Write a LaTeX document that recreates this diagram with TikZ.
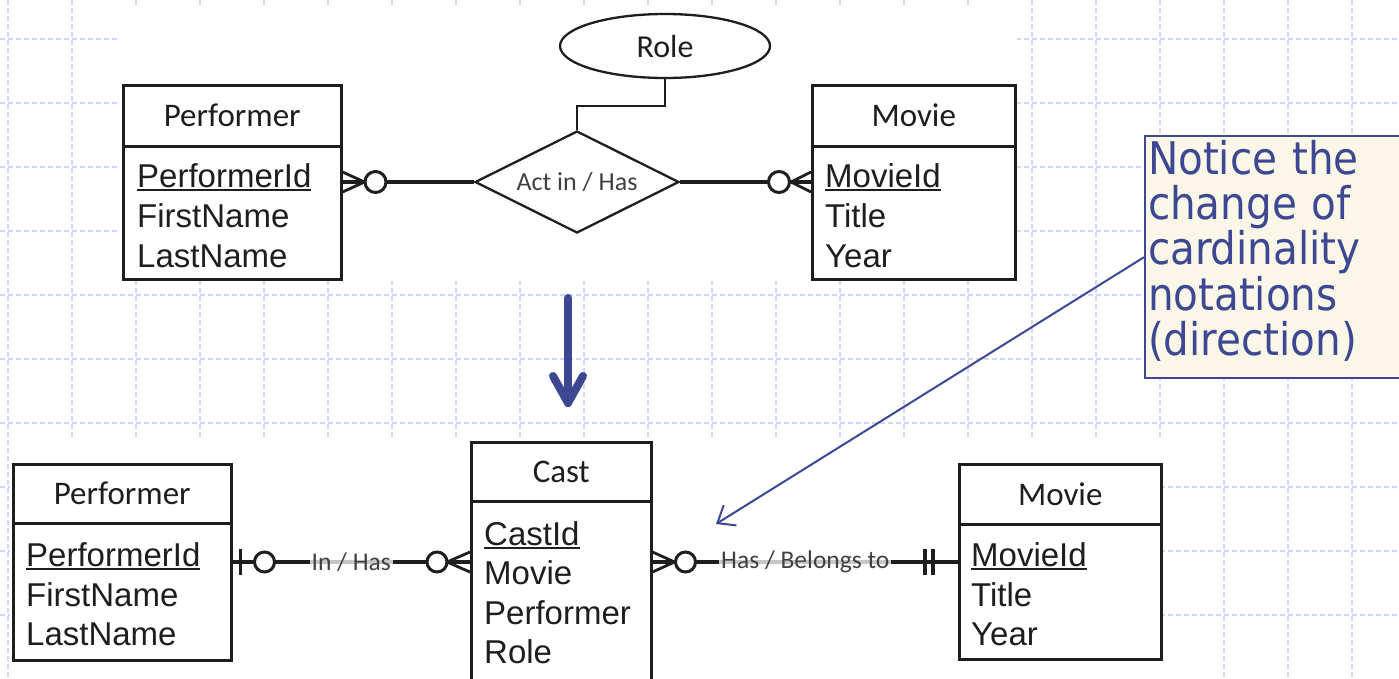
\documentclass[tikz,border=0pt]{standalone}
\usepackage{fontspec}
\setmainfont{Liberation Sans}
\newfontfamily\calfont{Carlito}
\newfontfamily\notefont{DejaVu Sans Condensed}
\usetikzlibrary{shapes.geometric,calc,arrows.meta}

\definecolor{gridblue}{RGB}{206,216,250}
\definecolor{callblue}{RGB}{62,71,145}
\definecolor{cream}{RGB}{251,247,232}
\definecolor{ink}{RGB}{30,30,30}
\definecolor{labelgray}{RGB}{64,64,64}

% key attribute: text with a heavy underline
\newcommand\keyattr[1]{\setbox0\hbox{#1}\rlap{\rule[-4pt]{\wd0}{2pt}}\box0}

\begin{document}
\begin{tikzpicture}[x=1pt,y=-1pt,
  gridline/.style={draw=gridblue,line width=1.2pt,dash pattern=on 5pt off 3pt},
  enthead/.style={draw=ink,line width=2.5pt,anchor=north west,inner sep=0pt,
    font=\calfont\fontsize{33}{40}\selectfont,text=ink},
  entbody/.style={draw=ink,line width=2.5pt,anchor=north west,inner sep=0pt},
  attr/.style={anchor=base west,inner sep=0pt,font=\fontsize{33}{40}\selectfont,text=ink},
  conn/.style={draw=ink,line width=3.4pt},
  foot/.style={draw=ink,line width=2.8pt},
  ring/.style={draw=ink,line width=3pt,fill=white},
  rellabel/.style={font=\calfont\fontsize{25.5}{30}\selectfont,text=labelgray,
    fill=white,fill opacity=0.75,text opacity=1,inner xsep=2pt,inner ysep=1pt},
  bigarrow/.style={draw=callblue,line width=8pt,line cap=round,line join=round},
  notebox/.style={draw=callblue,line width=2pt,fill=cream,text=callblue,
    font=\notefont\fontsize{45}{45.3}\selectfont,align=left,text width=262pt,
    inner xsep=3pt,inner ysep=4pt,anchor=north west},
  callarrow/.style={draw=callblue,line width=2pt,-{Straight Barb[length=15pt,width=24pt]}}]

\useasboundingbox (0,0) rectangle (1399,678);
\fill[white] (0,0) rectangle (1399,678);

% squared paper
\foreach \gx in {8,72,...,1352} \draw[gridline] (\gx,0) -- (\gx,678);
\foreach \gy in {39,103,...,615} \draw[gridline] (0,\gy) -- (1399,\gy);

% white panels behind the two diagrams
\fill[white] (118,7) rectangle (1017,281);
\fill[white] (10,437) rectangle (1162,678);

% ---------- upper diagram ----------
\node[enthead,minimum width=218,minimum height=61] (tperfh) at (122,84) {Performer};
\node[entbody,minimum width=218,minimum height=133] (tperfb) at (122,145) {};
\node[attr] (tperf1) at (137,187) {\keyattr{PerformerId}};
\node[attr] (tperf2) at (137,227) {FirstName};
\node[attr] (tperf3) at (137,267) {LastName};

\node[enthead,minimum width=203,minimum height=61] (tmovh) at (811,84) {Movie};
\node[entbody,minimum width=203,minimum height=133] (tmovb) at (811,145) {};
\node[attr] (tmov1) at (825,187) {\keyattr{MovieId}};
\node[attr] (tmov2) at (825,227) {Title};
\node[attr] (tmov3) at (825,267) {Year};

\node[ellipse,draw=ink,line width=2.3pt,minimum width=210,minimum height=64,inner sep=0pt,
  font=\calfont\fontsize{32}{38}\selectfont,text=ink] (role) at (665,46) {Role};
\node[diamond,draw=ink,line width=2.3pt,aspect=2,minimum width=204,minimum height=102,
  inner sep=0pt,font=\calfont\fontsize{26}{30}\selectfont,text=labelgray] (rel) at (577,182) {Act in / Has};

\draw[foot,line width=2.5pt] (role.south) -- ++(0,27) -| (rel.north);

\coordinate (tl) at (rel.west -| tperfb.east);
\coordinate (tr) at (rel.east -| tmovb.west);
\draw[conn] (tl) -- (rel.west);
\draw[conn] (rel.east) -- (tr);
% zero-or-many at Performer
\draw[foot] ($(tl)+(0,-10)$) -- ($(tl)+(22,0)$) -- ($(tl)+(0,10)$);
\draw[ring] ($(tl)+(33,0)$) circle (10.5);
% zero-or-many at Movie
\draw[foot] ($(tr)+(0,-10)$) -- ($(tr)+(-20,0)$) -- ($(tr)+(0,10)$);
\draw[ring] ($(tr)+(-32,0)$) circle (10.5);

% ---------- transformation arrow ----------
\coordinate (arrtop) at (568,298);
\coordinate (arrtip) at (568,403);
\draw[bigarrow] (arrtop) -- (arrtip);
\draw[bigarrow] ($(arrtip)+(-15,-27)$) -- (arrtip) -- ($(arrtip)+(15,-27)$);

% ---------- lower diagram ----------
\node[enthead,minimum width=218,minimum height=59] (bperfh) at (12,463) {Performer};
\node[entbody,minimum width=218,minimum height=137] (bperfb) at (12,522) {};
\node[attr] (bperf1) at (26,566) {\keyattr{PerformerId}};
\node[attr] (bperf2) at (26,606) {FirstName};
\node[attr] (bperf3) at (26,645) {LastName};

\node[enthead,minimum width=180,minimum height=59] (casth) at (470,441) {Cast};
\node[entbody,minimum width=180,minimum height=190] (castb) at (470,500) {};
\node[attr] (cast1) at (484,545) {\keyattr{CastId}};
\node[attr] (cast2) at (484,584) {Movie};
\node[attr] (cast3) at (484,624) {Performer};
\node[attr] (cast4) at (484,663) {Role};

\node[enthead,minimum width=202,minimum height=60] (bmovh) at (958,463) {Movie};
\node[entbody,minimum width=202,minimum height=135] (bmovb) at (958,523) {};
\node[attr] (bmov1) at (971,566) {\keyattr{MovieId}};
\node[attr] (bmov2) at (971,606) {Title};
\node[attr] (bmov3) at (971,645) {Year};

\coordinate (lvl) at (0,562);
\coordinate (bl) at (bperfb.east |- lvl);
\coordinate (cl) at (castb.west |- lvl);
\coordinate (cr) at (castb.east |- lvl);
\coordinate (br) at (bmovb.west |- lvl);

\draw[conn] (bl) -- (cl) node[rellabel,midway] (lab1) {In / Has};
\draw[conn] (cr) -- (br) node[rellabel,midway] (lab2) {Has / Belongs to};

% zero-or-one at Performer
\draw[foot,line width=3.2pt] ($(bl)+(8,-13)$) -- ($(bl)+(8,13)$);
\draw[ring] ($(bl)+(32,0)$) circle (10);
% zero-or-many at Cast (left)
\draw[foot] ($(cl)+(0,-10)$) -- ($(cl)+(-23,0)$) -- ($(cl)+(0,10)$);
\draw[ring] ($(cl)+(-33,0)$) circle (10);
% zero-or-many at Cast (right)
\draw[foot] ($(cr)+(0,-10)$) -- ($(cr)+(22,0)$) -- ($(cr)+(0,10)$);
\draw[ring] ($(cr)+(33,0)$) circle (10);
% exactly one at Movie
\draw[foot,line width=3.2pt] ($(br)+(-33,-13)$) -- ($(br)+(-33,13)$);
\draw[foot,line width=3.2pt] ($(br)+(-25,-13)$) -- ($(br)+(-25,13)$);

% ---------- note ----------
\node[notebox] (note) at (1144,135)
  {Notice the\\change of\\cardinality\\notations\\(direction)\rule[-19pt]{0pt}{0pt}};
\coordinate (ptr) at (716,524);
\draw[callarrow] (note.west) -- (ptr);

\end{tikzpicture}
\end{document}
